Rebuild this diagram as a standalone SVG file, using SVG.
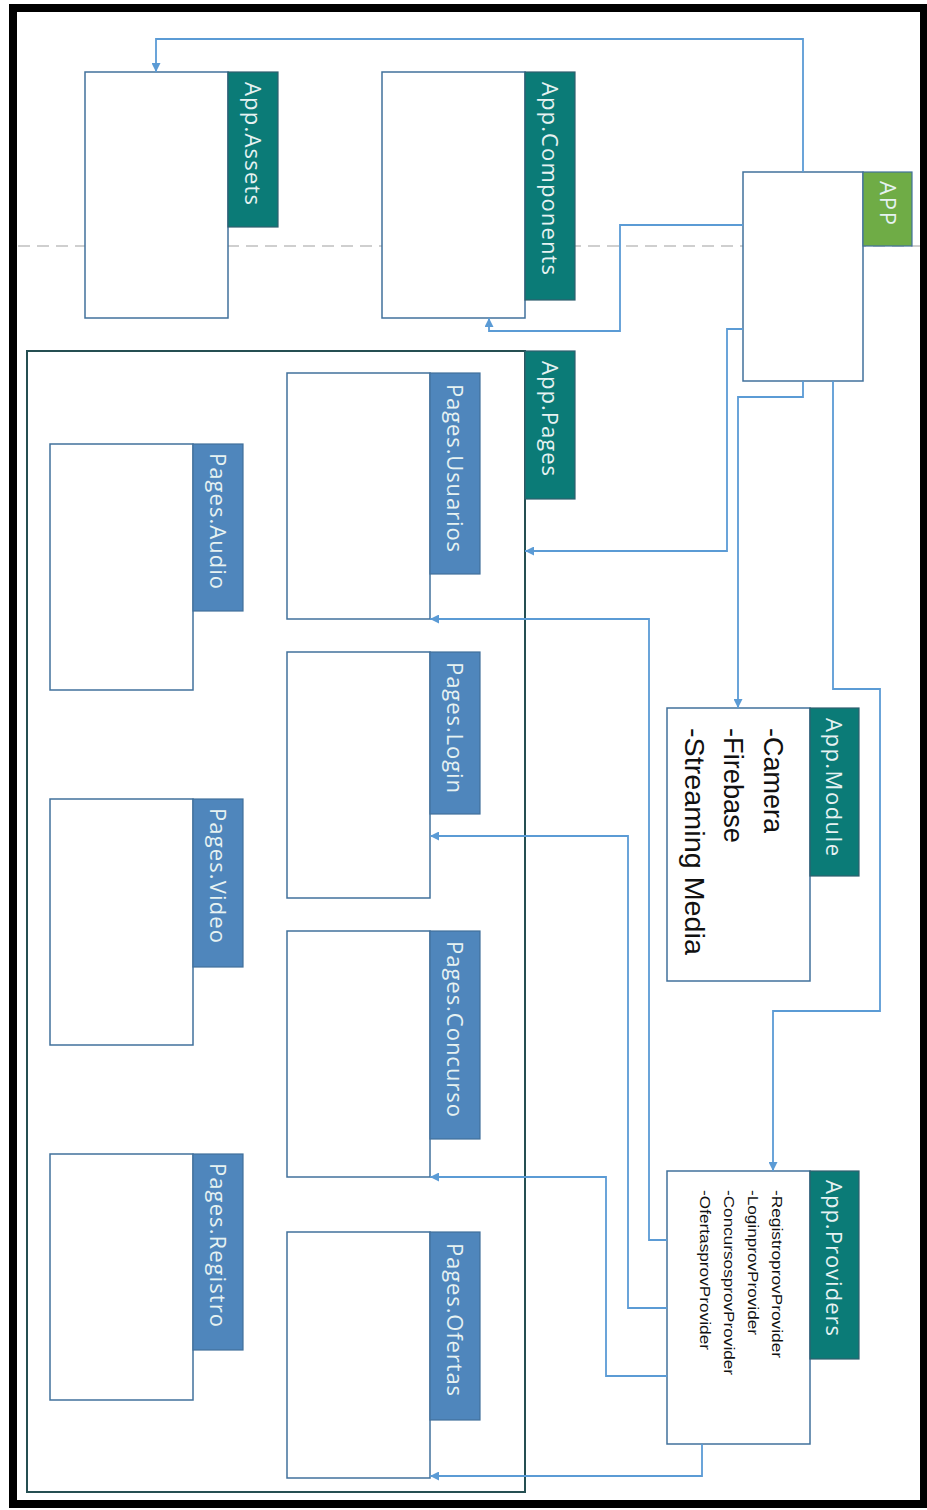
<svg xmlns="http://www.w3.org/2000/svg" width="927" height="1510" viewBox="0 0 927 1510">
<style>
.box{fill:#ffffff;stroke:#41719C;stroke-width:1.5}
.teal{fill:#0B7B77;stroke:#2F5F6F;stroke-width:1.2}
.blue{fill:#4F86BC;stroke:#41719C;stroke-width:1.2}
.green{fill:#6FAC46;stroke:#41719C;stroke-width:1.2}
.lbl{font-family:"Open Sans","Noto Sans",sans-serif;font-size:22px;fill:#E6F2F2}
.mod{font-family:"Liberation Sans","Noto Sans",sans-serif;font-size:28px;fill:#111111}
.prov{font-family:"Liberation Sans","Noto Sans",sans-serif;font-size:14px;fill:#111111}
.con{fill:none;stroke:#5B9BD5;stroke-width:1.8;marker-end:url(#arr)}
</style>
<defs>
<marker id="arr" viewBox="0 0 10 10" refX="10" refY="5" markerWidth="10" markerHeight="9" markerUnits="userSpaceOnUse" orient="auto">
<path d="M0,0 L10,5 L0,10 z" fill="#5B9BD5"/>
</marker>
</defs>
<rect x="0" y="0" width="927" height="1510" fill="#ffffff"/>
<rect x="13" y="8" width="911" height="1496" fill="#ffffff" stroke="#000000" stroke-width="8"/>
<line x1="18" y1="246" x2="920" y2="246" stroke="#C0C0C0" stroke-width="1.6" stroke-dasharray="12,7"/>

<g id="app-pages">
<rect x="27" y="351" width="498" height="1141" fill="#ffffff" stroke="#254F52" stroke-width="2"/>
<rect class="teal" x="525" y="351" width="50" height="148"/>
<text class="lbl" transform="translate(542,361) rotate(90)" textLength="115" lengthAdjust="spacing">App.Pages</text>
</g>

<g id="app-assets">
<rect class="box" x="85" y="72" width="143" height="246"/>
<rect class="teal" x="228" y="72" width="50" height="155"/>
<text class="lbl" transform="translate(245,82) rotate(90)" textLength="123" lengthAdjust="spacing">App.Assets</text>
</g>

<g id="app-components">
<rect class="box" x="382" y="72" width="143" height="246"/>
<rect class="teal" x="525" y="72" width="50" height="228"/>
<text class="lbl" transform="translate(542,82) rotate(90)" textLength="193" lengthAdjust="spacing">App.Components</text>
</g>

<g id="app">
<rect class="box" x="743" y="172" width="120" height="209"/>
<rect class="green" x="863" y="172" width="49" height="74"/>
<text class="lbl" transform="translate(880,181) rotate(90)" textLength="44" lengthAdjust="spacing">APP</text>
</g>

<g id="pages-usuarios">
<rect class="box" x="287" y="373" width="143" height="246"/>
<rect class="blue" x="430" y="373" width="50" height="201"/>
<text class="lbl" transform="translate(447,384) rotate(90)" textLength="168" lengthAdjust="spacing">Pages.Usuarios</text>
</g>

<g id="pages-login">
<rect class="box" x="287" y="652" width="143" height="246"/>
<rect class="blue" x="430" y="652" width="50" height="162"/>
<text class="lbl" transform="translate(447,662) rotate(90)" textLength="131" lengthAdjust="spacing">Pages.Login</text>
</g>

<g id="pages-concurso">
<rect class="box" x="287" y="931" width="143" height="246"/>
<rect class="blue" x="430" y="931" width="50" height="208"/>
<text class="lbl" transform="translate(447,941) rotate(90)" textLength="176" lengthAdjust="spacing">Pages.Concurso</text>
</g>

<g id="pages-ofertas">
<rect class="box" x="287" y="1232" width="143" height="246"/>
<rect class="blue" x="430" y="1232" width="50" height="188"/>
<text class="lbl" transform="translate(447,1243) rotate(90)" textLength="153" lengthAdjust="spacing">Pages.Ofertas</text>
</g>

<g id="pages-audio">
<rect class="box" x="50" y="444" width="143" height="246"/>
<rect class="blue" x="193" y="444" width="50" height="167"/>
<text class="lbl" transform="translate(210,453) rotate(90)" textLength="136" lengthAdjust="spacing">Pages.Audio</text>
</g>

<g id="pages-video">
<rect class="box" x="50" y="799" width="143" height="246"/>
<rect class="blue" x="193" y="799" width="50" height="168"/>
<text class="lbl" transform="translate(210,808) rotate(90)" textLength="135" lengthAdjust="spacing">Pages.Video</text>
</g>

<g id="pages-registro">
<rect class="box" x="50" y="1154" width="143" height="246"/>
<rect class="blue" x="193" y="1154" width="50" height="196"/>
<text class="lbl" transform="translate(210,1163) rotate(90)" textLength="164" lengthAdjust="spacing">Pages.Registro</text>
</g>

<g id="app-module">
<rect class="box" x="667" y="708" width="143" height="273"/>
<rect class="teal" x="810" y="708" width="49" height="168"/>
<text class="lbl" transform="translate(826,718) rotate(90)" textLength="138" lengthAdjust="spacing">App.Module</text>
<text class="mod" transform="translate(764,728) rotate(90)" textLength="105" lengthAdjust="spacingAndGlyphs">-Camera</text>
<text class="mod" transform="translate(724,728) rotate(90)" textLength="115" lengthAdjust="spacingAndGlyphs">-Firebase</text>
<text class="mod" transform="translate(685,728) rotate(90)" textLength="227" lengthAdjust="spacingAndGlyphs">-Streaming Media</text>
</g>

<g id="app-providers">
<rect class="box" x="667" y="1171" width="143" height="273"/>
<rect class="teal" x="810" y="1171" width="49" height="188"/>
<text class="lbl" transform="translate(826,1180) rotate(90)" textLength="156" lengthAdjust="spacing">App.Providers</text>
<text class="prov" transform="translate(772,1190) rotate(90)" textLength="168" lengthAdjust="spacingAndGlyphs">-RegistroprovProvider</text>
<text class="prov" transform="translate(748,1190) rotate(90)" textLength="145" lengthAdjust="spacingAndGlyphs">-LoginprovProvider</text>
<text class="prov" transform="translate(724,1190) rotate(90)" textLength="185" lengthAdjust="spacingAndGlyphs">-ConcursosprovProvider</text>
<text class="prov" transform="translate(700,1190) rotate(90)" textLength="160" lengthAdjust="spacingAndGlyphs">-OfertasprovProvider</text>
</g>

<g id="connectors">
<polyline class="con" points="803,172 803,39 156,39 156,72"/>
<polyline class="con" points="743,225 620,225 620,331 489,331 489,318"/>
<polyline class="con" points="743,329 727,329 727,551 525,551"/>
<polyline class="con" points="803,381 803,397 738,397 738,708"/>
<polyline class="con" points="833,381 833,689 880,689 880,1011 773,1011 773,1171"/>
<polyline class="con" points="667,1240 649,1240 649,619 430,619"/>
<polyline class="con" points="667,1308 628,1308 628,836 430,836"/>
<polyline class="con" points="667,1376 606,1376 606,1177 430,1177"/>
<polyline class="con" points="702,1444 702,1476 430,1476"/>
</g>
</svg>
